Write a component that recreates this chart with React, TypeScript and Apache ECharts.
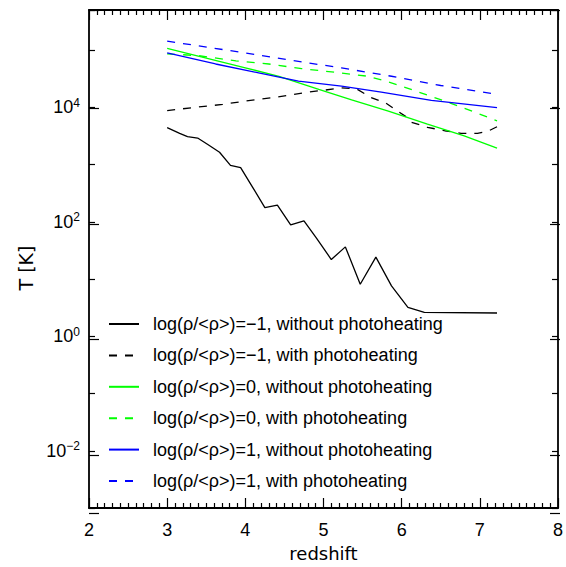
import { useEffect, useRef } from 'react';
import * as echarts from 'echarts';

// redshift / temperature [K]
const zBlackSolid = [3.0, 3.16, 3.26, 3.39, 3.52, 3.67, 3.81, 3.94, 4.09, 4.25, 4.41, 4.58, 4.75, 4.91, 5.10, 5.28, 5.47, 5.67, 5.87, 6.08, 6.29, 7.22];
const tBlackSolid = [4400, 3500, 3060, 2900, 2230, 1640, 964, 881, 408, 177, 196, 88.3, 104, 52, 21.9, 36.4, 8.09, 24.1, 7.59, 3.2, 2.62, 2.55];

const zBlackDashed = [3.0, 3.33, 3.71, 4.0, 4.36, 4.6, 4.81, 5.02, 5.23, 5.42, 5.61, 5.8, 5.95, 6.05, 6.12, 6.33, 6.55, 6.76, 6.97, 7.1, 7.22];
const tBlackDashed = [8710, 9890, 11200, 12850, 14800, 16600, 18400, 19950, 21900, 21100, 14800, 11750, 8510, 6920, 5500, 4470, 3890, 3510, 3510, 3800, 4570];

const zGreenSolid = [3.0, 3.5, 4.0, 4.43, 4.94, 5.36, 5.83, 6.33, 6.8, 7.22];
const tGreenSolid = [107000, 72400, 48900, 34800, 20500, 13500, 8530, 5080, 3150, 1930];

const zGreenDashed = [3.0, 3.41, 3.88, 4.3, 4.72, 5.15, 5.57, 5.8, 6.12, 6.55, 6.97, 7.22];
const tGreenDashed = [85900, 79400, 64600, 57000, 47300, 40800, 34800, 28500, 20500, 12850, 7870, 5790];

const zBlueSolid = [3.0, 3.62, 4.17, 4.68, 5.23, 5.74, 6.38, 7.22];
const tBlueSolid = [89100, 57000, 39800, 28500, 23400, 18400, 13200, 9890];

const zBlueDashed = [3.0, 3.96, 4.6, 5.23, 5.87, 6.5, 7.22];
const tBlueDashed = [142900, 90600, 65800, 48600, 34800, 24000, 16800];

const seriesNames = [
  'log(ρ/<ρ>)=−1, without photoheating',
  'log(ρ/<ρ>)=−1, with photoheating',
  'log(ρ/<ρ>)=0, without photoheating',
  'log(ρ/<ρ>)=0, with photoheating',
  'log(ρ/<ρ>)=1, without photoheating',
  'log(ρ/<ρ>)=1, with photoheating',
];

const xMin = 2;
const xMax = 8;
const yMin = 0.001;
const yMax = 500000;

export default function App() {
  const ref = useRef<HTMLDivElement>(null);

  useEffect(() => {
    const chart = echarts.init(ref.current!, null, { renderer: 'svg' });
    const GRID = { left: 89, right: 6, top: 10, bottom: 54 };
    const axisColor = '#000';
    const line = { color: axisColor, width: 1.8 };
    const tickStyle = { color: axisColor, width: 1.2 };

    const fmtY = (v: number) => {
      const l = Math.log10(v);
      const e = Math.round(l);
      if (Math.abs(l - e) > 1e-6 || e % 2 !== 0) return '';
      const s = e < 0 ? '−' + String(-e) : String(e);
      return `{b|10}{s|${s}}`;
    };

    const mk = (name: string, z: number[], t: number[], color: string, dashed: boolean) => ({
      name,
      type: 'line',
      xAxisIndex: 0,
      yAxisIndex: 0,
      data: z.map((x, i) => [x, t[i]]),
      symbol: 'none',
      showSymbol: false,
      silent: true,
      itemStyle: { color },
      lineStyle: { color, width: 1.3, type: dashed ? [8, 8] : 'solid' },
    });

    const baseX = {
      type: 'value',
      min: xMin,
      max: xMax,
      interval: 1,
      axisLine: { show: true, onZero: false, lineStyle: line },
      axisTick: { show: true, inside: true, length: 10, lineStyle: tickStyle },
      minorTick: { show: true, splitNumber: 10, length: 5, lineStyle: tickStyle },
      splitLine: { show: false },
      minorSplitLine: { show: false },
    };

    chart.setOption({
      animation: false,
      backgroundColor: '#ffffff',
      grid: [{ ...GRID }, { ...GRID }],
      xAxis: [
        {
          ...baseX,
          gridIndex: 0,
          position: 'bottom',
          name: 'redshift',
          nameLocation: 'middle',
          nameGap: 36,
          nameTextStyle: { fontFamily: 'DejaVu Sans', fontSize: 18, color: '#000' },
          axisLabel: { show: true, margin: 13, fontFamily: 'Liberation Sans', fontSize: 18, color: '#000' },
        },
        {
          ...baseX,
          gridIndex: 0,
          position: 'top',
          axisLabel: { show: false },
        },
        { type: 'value', gridIndex: 1, show: false, min: xMin, max: xMax },
      ],
      yAxis: [
        {
          type: 'log',
          gridIndex: 0,
          position: 'left',
          logBase: 10,
          min: yMin,
          max: yMax,
          interval: 1,
          name: 'T [K]',
          nameLocation: 'middle',
          nameGap: 54,
          nameTextStyle: { fontFamily: 'DejaVu Sans', fontSize: 19, color: '#000', padding: [0, 18, 0, 0] },
          axisLine: { show: true, onZero: false, lineStyle: line },
          axisTick: { show: true, inside: true, length: 6, lineStyle: tickStyle },
          splitLine: { show: false },
          minorTick: { show: false },
          axisLabel: {
            show: true,
            margin: 9,
            formatter: fmtY,
            rich: {
              b: { fontFamily: 'Liberation Sans', fontSize: 18, lineHeight: 21, color: '#000' },
              s: { fontFamily: 'Liberation Sans', fontSize: 12, lineHeight: 12, verticalAlign: 'top', color: '#000' },
            },
          },
        },
        {
          type: 'log',
          gridIndex: 0,
          position: 'right',
          logBase: 10,
          min: yMin,
          max: yMax,
          interval: 1,
          axisLine: { show: true, onZero: false, lineStyle: line },
          axisTick: { show: true, inside: true, length: 6, lineStyle: tickStyle },
          splitLine: { show: false },
          axisLabel: { show: false },
        },
        {
          type: 'log',
          gridIndex: 1,
          position: 'left',
          logBase: 100,
          min: yMin,
          max: yMax,
          axisLine: { show: false },
          axisTick: { show: true, inside: true, length: 10, lineStyle: tickStyle },
          splitLine: { show: false },
          axisLabel: { show: false },
        },
        {
          type: 'log',
          gridIndex: 1,
          position: 'right',
          logBase: 100,
          min: yMin,
          max: yMax,
          axisLine: { show: false },
          axisTick: { show: true, inside: true, length: 10, lineStyle: tickStyle },
          splitLine: { show: false },
          axisLabel: { show: false },
        },
      ],
      legend: {
        orient: 'vertical',
        left: 108,
        top: 312,
        padding: 0,
        itemWidth: 30,
        itemHeight: 16,
        itemGap: 7.4,
        selectedMode: false,
        data: seriesNames,
        itemStyle: { color: 'transparent', borderColor: 'transparent', borderWidth: 0, opacity: 0 },
        textStyle: {
          fontFamily: 'Liberation Sans',
          fontSize: 18,
          lineHeight: 18,
          color: '#000',
          padding: [0, 0, 6, 9],
        },
      },
      series: [
        mk(seriesNames[0], zBlackSolid, tBlackSolid, '#000000', false),
        mk(seriesNames[1], zBlackDashed, tBlackDashed, '#000000', true),
        mk(seriesNames[2], zGreenSolid, tGreenSolid, '#00ff00', false),
        mk(seriesNames[3], zGreenDashed, tGreenDashed, '#00ff00', true),
        mk(seriesNames[4], zBlueSolid, tBlueSolid, '#0000ff', false),
        mk(seriesNames[5], zBlueDashed, tBlueDashed, '#0000ff', true),
      ],
    });

    return () => chart.dispose();
  }, []);

  return (
    <div
      ref={ref}
      style={{ position: 'fixed', left: 0, top: 0, width: 566, height: 567, background: '#fff' }}
    />
  );
}
